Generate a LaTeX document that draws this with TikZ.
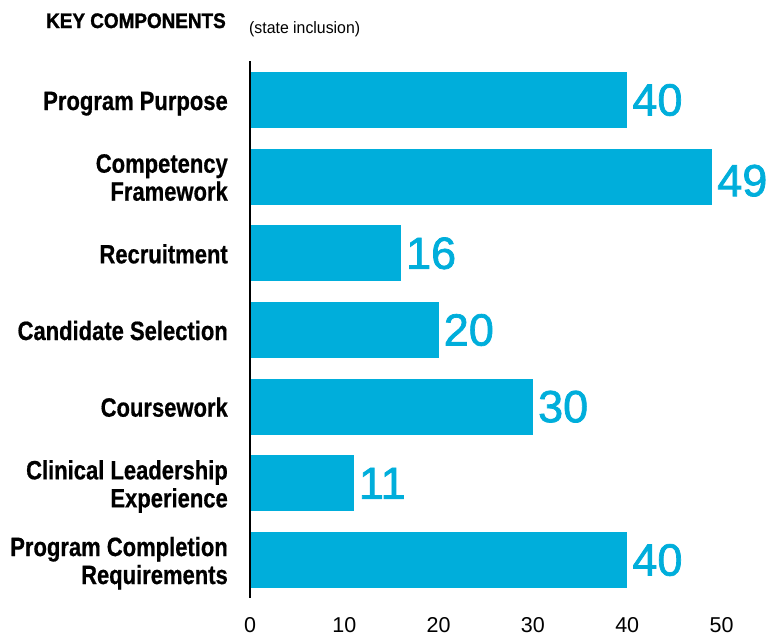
\documentclass[tikz,border=0pt]{standalone}
\usepackage{fontspec}
\setmainfont{Liberation Sans}
\newfontfamily\catfont[FakeStretch=0.83,FakeBold=0.6]{Liberation Sans Bold}
\newfontfamily\titlefont[FakeStretch=0.9,FakeBold=1.4]{Liberation Sans Bold}
\newfontfamily\notefont[FakeStretch=0.96]{Liberation Sans}
\newfontfamily\valfont[FakeBold=1.6]{Liberation Sans}
\newfontfamily\tickfont{Liberation Sans}
\definecolor{barblue}{RGB}{0,174,219}
\begin{document}
\begin{tikzpicture}[x=1pt,y=-1pt,
  bar/.style={fill=barblue, draw=none, inner sep=0pt, outer sep=0pt, minimum height=56pt, anchor=north west},
  catlabel/.style={anchor=base east, align=right, inner sep=0pt, font=\catfont\fontsize{26.5}{28}\selectfont},
  vallabel/.style={anchor=west, inner sep=0pt, text=barblue, font=\valfont\fontsize{45}{45}\selectfont},
  ticklabel/.style={anchor=base, inner sep=0pt, font=\tickfont\fontsize{21.5}{22}\selectfont},
  titlelabel/.style={anchor=base west, inner sep=0pt, font=\titlefont\fontsize{21}{21}\selectfont},
  notelabel/.style={anchor=base west, inner sep=0pt, font=\notefont\fontsize{16.5}{17}\selectfont},
  axisline/.style={line width=2pt, draw=black}]
\useasboundingbox (0,0) rectangle (767,637);

\node[titlelabel] (title) at (46,28) {KEY COMPONENTS};
\node[notelabel] (note) at (249,33) {(state inclusion)};

\foreach \v/\lab/\dy/\vy [count=\i from 0] in {
  40/{Program Purpose}/10/0,
  49/{Competency\\Framework}/24/-4,
  16/{Recruitment}/10/0,
  20/{Candidate Selection}/10/0,
  30/{Coursework}/10/0,
  11/{Clinical Leadership\\Experience}/24/0,
  40/{Program Completion\\Requirements}/24/0}
{
  \pgfmathsetmacro\btop{72+76.67*\i}
  \node[bar, minimum width={\v*9.43pt-1pt}] (bar\i) at (251,\btop) {};
  \node[vallabel, yshift=\vy pt] (val\i) at ([xshift=5pt]bar\i.east) {\v};
  \node[catlabel] (cat\i) at (228,\btop+28+\dy) {\lab};
}

\coordinate (axtop) at (250,61);
\coordinate (axbot) at (250,598);
\draw[axisline] (axtop) -- (axbot);

\foreach \k/\t in {0/0,1/10,2/20,3/30,4/40,5/50}
  \node[ticklabel] (tick\k) at ({250+94.3*\k},632) {\t};
\end{tikzpicture}
\end{document}
